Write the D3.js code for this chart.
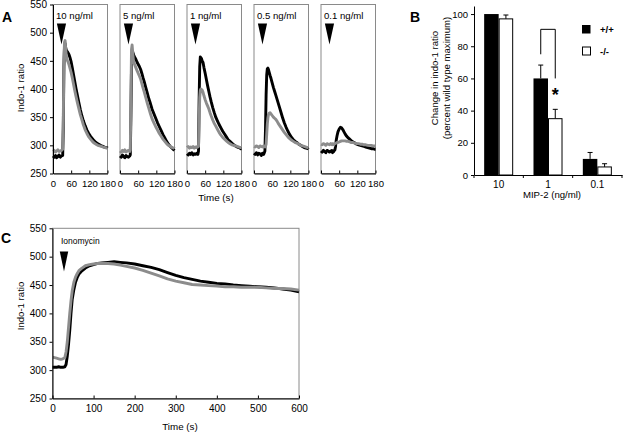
<!DOCTYPE html>
<html><head><meta charset="utf-8">
<script src="https://cdn.jsdelivr.net/npm/d3@7"></script>
<style>
html,body{margin:0;padding:0;background:#fff;}
svg{display:block;font-family:Arial,"Liberation Sans",sans-serif;}
</style></head><body>
<svg id="chart" width="623" height="433"></svg>
<script>
// ---------- DATA ----------
const concLabels = ["10 ng/ml","5 ng/ml","1 ng/ml","0.5 ng/ml","0.1 ng/ml"];
const tickAy = [250,300,350,400,450,500,550];
const tickAx = [0,60,120,180];
const tA = [0,4,8,12,16,20,24,28,32,34,36,38,40,42,44,46,48,50,53,56,60,64,68,72,76,80,85,90,95,100,106,112,118,124,130,136,142,148,154,160,166,172,178,180];
const wt10 = [281,279,282,278,280,283,279,281,282,330,440,476,481,473,469,467,466,464,461,456,448,437,425,413,401,390,377,364,353,344,335,327,321,316,312,308,305,303,301,299,298,296,296,295];
const ko10 = [289,291,288,290,292,289,290,291,293,345,452,483,486,471,459,453,450,448,443,437,429,419,408,397,387,377,366,355,346,337,328,321,315,311,307,304,302,300,299,298,297,296,295,295];
const wt5 = [281,279,283,280,278,282,280,279,281,283,350,440,462,466,462,459,457,455,452,448,444,440,435,428,420,413,403,393,383,375,364,356,348,340,333,326,319,313,307,302,298,295,292,291];
const ko5 = [290,288,291,289,292,288,290,291,289,292,380,470,478,465,452,447,444,441,437,433,428,423,418,410,402,395,385,375,366,357,347,340,333,327,321,316,311,307,303,300,298,296,295,294];
const wt1 = [285,283,286,284,287,283,285,284,286,285,284,290,380,440,457,455,454,450,447,438,428,417,406,396,386,377,367,358,350,344,337,331,325,320,315,310,307,304,301,299,297,296,294,294];
const ko1 = [296,298,295,297,296,298,295,297,296,298,297,298,340,385,398,400,399,398,394,388,381,375,370,365,358,352,345,339,334,329,323,318,314,311,308,305,303,301,300,299,298,297,296,296];
const wt05 = [286,284,287,283,286,285,282,286,284,287,290,330,390,425,436,437,434,430,424,419,411,403,396,389,382,375,366,357,348,340,332,325,319,314,310,307,305,302,300,298,296,295,294,293];
const ko05 = [298,297,299,298,296,299,298,297,299,298,297,299,302,320,338,349,355,357,358,356,353,350,348,346,343,339,335,331,327,323,319,315,312,309,307,305,304,302,300,299,298,297,296,296];
const wt01 = [290,288,291,289,287,291,290,288,290,289,291,287,290,289,291,292,298,308,317,324,329,332,331,328,324,320,316,313,311,308,306,304,302,301,300,299,298,297,296,295,294,294,293,293];
const ko01 = [302,301,303,302,300,303,302,301,303,302,301,303,302,301,303,303,304,304,305,305,306,307,308,308,308,308,307,307,306,305,305,304,303,303,302,302,301,301,300,300,300,299,299,299];
const wtA = [wt10, wt5, wt1, wt05, wt01];
const koA = [ko10, ko5, ko1, ko05, ko01];
const stimT = 28;

const doses = ["10","1","0.1"];
const wtMean = [100,60,10];
const wtErr = [0,8.3,4];
const koMean = [97,35,5];
const koErr = [2.4,5.8,2];
const tickBy = [0,20,40,60,80,100];
const groups = ["+/+","-/-"];

const tickCx = [0,100,200,300,400,500,600];
const tickCy = [250,300,350,400,450,500,550];
const tC = [0,5,10,15,20,25,30,33,36,39,42,45,48,52,56,60,65,70,80,90,100,110,120,135,150,165,180,200,220,240,260,280,300,320,340,360,380,400,420,440,460,480,500,520,540,560,580,600];
const wtC = [305,305,305,306,305,305,306,310,325,345,370,400,425,442,455,463,470,474,480,484,486,488,489,490,491,490,489,487,484,481,477,472,467,463,460,457,455,453,452,450,449,448,447,446,445,443,441,438];
const koC = [323,322,321,320,319,320,322,332,350,375,400,422,440,455,464,470,476,479,484,486,487,488,488,488,487,485,483,480,476,471,466,461,457,454,451,450,449,448,447,447,446,446,446,445,444,444,443,441];

// ---------- DRAW ----------
const FONT = "Arial, 'Liberation Sans', sans-serif";
const BLACK = "#000", GRAY = "#8c8c8c", BOX = "#8a8a8a";
const LW = 2.9;
const svg = d3.select("#chart");

function styleAxis(g, size){
  g.attr("font-family", FONT).attr("font-size", size);
  g.selectAll("text").attr("fill","#000");
  g.selectAll("line,path").attr("stroke","#000").attr("stroke-width",1);
}

// Panel A
const yA = d3.scaleLinear().domain([250,550]).range([173.5,4.5]);
const panelA = d3.scaleBand().domain(concLabels).range([53,375.5]).paddingInner(0.1866);
concLabels.forEach((c,i)=>{
  const x0 = panelA(c), w = panelA.bandwidth();
  const x = d3.scaleLinear().domain([0,180]).range([x0, x0+w]);
  const g = svg.append("g");
  g.append("rect").attr("x",x0).attr("y",yA(550)).attr("width",w).attr("height",yA(250)-yA(550))
    .attr("fill","none").attr("stroke",BOX).attr("stroke-width",1);
  const line = d3.line().x((d,j)=>x(tA[j])).y(d=>yA(d));
  g.append("path").datum(wtA[i]).attr("d",line).attr("fill","none").attr("stroke",BLACK).attr("stroke-width",LW).attr("stroke-linejoin","round");
  g.append("path").datum(koA[i]).attr("d",line).attr("fill","none").attr("stroke",GRAY).attr("stroke-width",LW).attr("stroke-linejoin","round");
  const ax = g.append("g").attr("transform",`translate(0,${yA(250)})`)
    .call(d3.axisBottom(x).tickValues(tickAx).tickSizeInner(-3).tickSizeOuter(0).tickPadding(7));
  styleAxis(ax, 9.5);
  g.append("text").attr("x",x0+3).attr("y",18.5).attr("font-family",FONT).attr("font-size",9.6).text(c);
  const tx = x(stimT);
  g.append("path").attr("d",`M${tx-4.6},23.5 L${tx+4.6},23.5 L${tx},44.5 Z`).attr("fill",BLACK);
  if(i===0){
    const ay = g.append("g").attr("transform",`translate(${x0},0)`)
      .call(d3.axisLeft(yA).tickValues(tickAy).tickSizeInner(3).tickSizeOuter(0).tickPadding(3));
    styleAxis(ay, 10);
  }
});
svg.append("text").attr("transform",`translate(21,88) rotate(-90)`).attr("text-anchor","middle").attr("dy","0.35em")
  .attr("font-family",FONT).attr("font-size",9.6).text("Indo-1 ratio");
svg.append("text").attr("x",216).attr("y",201).attr("text-anchor","middle")
  .attr("font-family",FONT).attr("font-size",9.8).text("Time (s)");
svg.append("text").attr("x",2).attr("y",22).attr("font-family",FONT).attr("font-size",14).attr("font-weight","bold").text("A");

// Panel B
const yB = d3.scaleLinear().domain([0,105]).range([175,6]);
const xB = d3.scaleBand().domain(doses).range([474,622]);
const xSub = d3.scaleBand().domain(groups).range([0,xB.bandwidth()]).paddingOuter(0.7);
const gB = svg.append("g");
doses.forEach((d,i)=>{
  const vals = [[wtMean[i],wtErr[i],BLACK],[koMean[i],koErr[i],"#fff"]];
  vals.forEach(([m,e,fill],k)=>{
    const bx = xB(d)+xSub(groups[k]), bw = xSub.bandwidth();
    if(e>0){
      const cx = bx+bw/2;
      gB.append("line").attr("x1",cx).attr("x2",cx).attr("y1",yB(m)).attr("y2",yB(m+e)).attr("stroke","#000");
      gB.append("line").attr("x1",cx-2.5).attr("x2",cx+2.5).attr("y1",yB(m+e)).attr("y2",yB(m+e)).attr("stroke","#000");
    }
    gB.append("rect").attr("x",bx+ (k===1?0.5:0)).attr("y",yB(m)).attr("width",bw-(k===1?1:0)).attr("height",yB(0)-yB(m))
      .attr("fill",fill).attr("stroke",k===1?"#000":"none").attr("stroke-width",1);
  });
});
const ayB = gB.append("g").attr("transform","translate(474,0)")
  .call(d3.axisLeft(yB).tickValues(tickBy).tickSizeInner(3).tickSizeOuter(0).tickPadding(3));
styleAxis(ayB, 9.5);
const axB = gB.append("g").attr("transform",`translate(0,${yB(0)})`)
  .call(d3.axisBottom(xB).tickSize(0).tickPadding(6));
styleAxis(axB, 10);
[...doses.map(d=>xB(d)), xB.range()[1]].forEach(xv=>{
  gB.append("line").attr("x1",xv).attr("x2",xv).attr("y1",yB(0)).attr("y2",yB(0)+3).attr("stroke","#000");
});
{
  const d = doses[1];
  const xl = xB(d)+xSub(groups[0])+xSub.bandwidth()/2;
  const xr = xB(d)+xSub(groups[1])+xSub.bandwidth()/2;
  gB.append("path").attr("d",`M${xl},${yB(75)} V${yB(90.5)} H${xr} V${yB(60)}`).attr("fill","none").attr("stroke","#000").attr("stroke-width",1);
  gB.append("text").attr("x",xr).attr("y",yB(52)+10).attr("text-anchor","middle").attr("font-family",FONT)
    .attr("font-size",18).attr("font-weight","bold").text("*");
}
groups.forEach((gname,k)=>{
  const ly = 25 + k*21.5;
  gB.append("rect").attr("x",582+(k?0.5:0)).attr("y",ly+(k?0.5:0)).attr("width",k?8:8.5).attr("height",k?8:8.5)
    .attr("fill",k?"#fff":"#000").attr("stroke",k?"#000":"none");
  gB.append("text").attr("x",600).attr("y",ly+8).attr("font-family",FONT).attr("font-size",9.5).attr("font-weight","bold").text(gname);
});
svg.append("text").attr("transform","translate(435,78) rotate(-90)").attr("text-anchor","middle").attr("dy","0.35em")
  .attr("font-family",FONT).attr("font-size",9.6).text("Change in indo-1 ratio");
svg.append("text").attr("transform","translate(446.5,78) rotate(-90)").attr("text-anchor","middle").attr("dy","0.35em")
  .attr("font-family",FONT).attr("font-size",9.6).text("(percent wild type maximum)");
svg.append("text").attr("x",552).attr("y",198).attr("text-anchor","middle")
  .attr("font-family",FONT).attr("font-size",9.6).text("MIP-2 (ng/ml)");
svg.append("text").attr("x",410).attr("y",21.5).attr("font-family",FONT).attr("font-size",14).attr("font-weight","bold").text("B");

// Panel C
const xC = d3.scaleLinear().domain([0,600]).range([52.5,299]);
const yC = d3.scaleLinear().domain([250,550]).range([398.5,228.3]);
const gC = svg.append("g");
gC.append("rect").attr("x",xC(0)).attr("y",yC(550)).attr("width",xC(600)-xC(0)).attr("height",yC(250)-yC(550))
  .attr("fill","none").attr("stroke",BOX).attr("stroke-width",1);
const lineC = d3.line().x((d,j)=>xC(tC[j])).y(d=>yC(d));
gC.append("path").datum(wtC).attr("d",lineC).attr("fill","none").attr("stroke",BLACK).attr("stroke-width",LW).attr("stroke-linejoin","round");
gC.append("path").datum(koC).attr("d",lineC).attr("fill","none").attr("stroke",GRAY).attr("stroke-width",LW).attr("stroke-linejoin","round");
const axC = gC.append("g").attr("transform",`translate(0,${yC(250)})`)
  .call(d3.axisBottom(xC).tickValues(tickCx).tickSizeInner(-3).tickSizeOuter(0).tickPadding(6));
styleAxis(axC, 10);
const ayC = gC.append("g").attr("transform",`translate(${xC(0)},0)`)
  .call(d3.axisLeft(yC).tickValues(tickCy).tickSizeInner(3).tickSizeOuter(0).tickPadding(3));
styleAxis(ayC, 10);
{
  const tx = xC(stimT);
  gC.append("path").attr("d",`M${tx-4.2},251.5 L${tx+4.2},251.5 L${tx},271.5 Z`).attr("fill",BLACK);
}
gC.append("text").attr("x",61).attr("y",244).attr("font-family",FONT).attr("font-size",8.5).text("Ionomycin");
svg.append("text").attr("transform",`translate(21,306) rotate(-90)`).attr("text-anchor","middle").attr("dy","0.35em")
  .attr("font-family",FONT).attr("font-size",9.6).text("Indo-1 ratio");
svg.append("text").attr("x",180).attr("y",429.5).attr("text-anchor","middle")
  .attr("font-family",FONT).attr("font-size",9.8).text("Time (s)");
svg.append("text").attr("x",1).attr("y",243).attr("font-family",FONT).attr("font-size",14).attr("font-weight","bold").text("C");
</script>
</body></html>
